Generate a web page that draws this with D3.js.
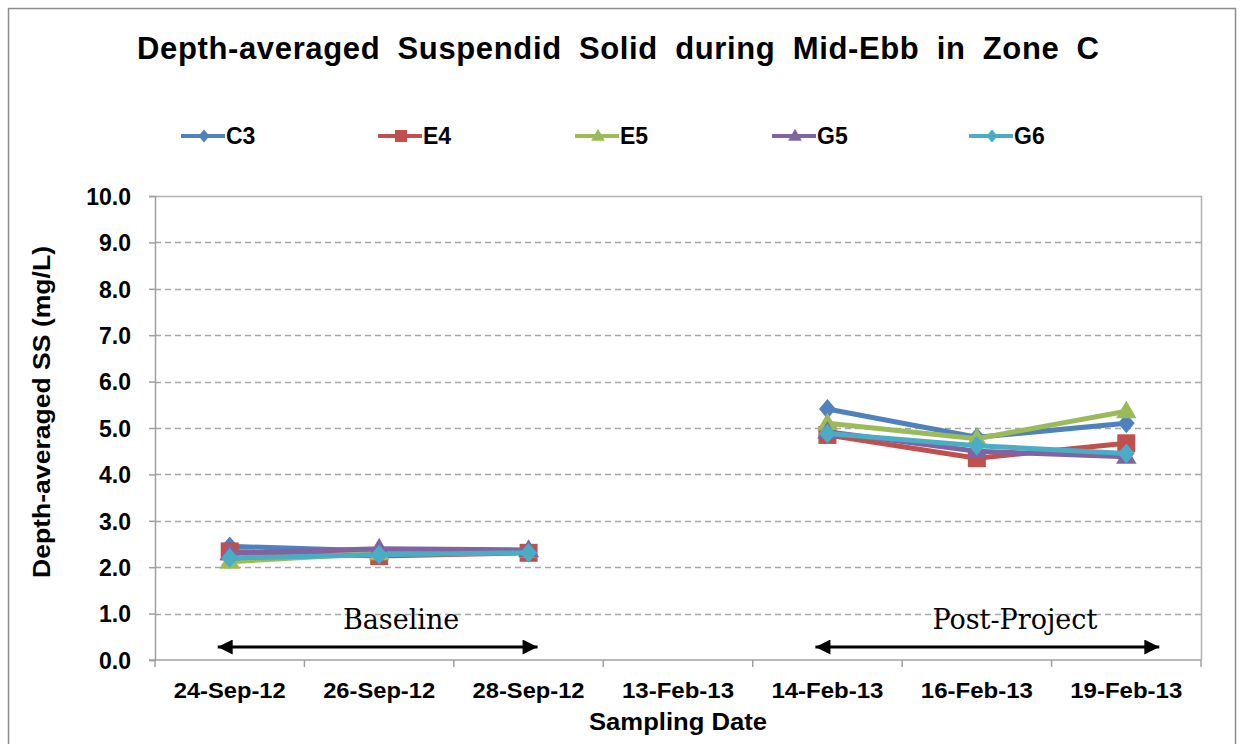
<!DOCTYPE html>
<html>
<head>
<meta charset="utf-8">
<script src="https://cdn.jsdelivr.net/npm/d3@7"></script>
<style>
  body { margin: 0; background: #fff; }
  svg { display: block; }
  .tick-label { font-family: "Liberation Sans", Arial, sans-serif; font-weight: bold; font-size: 22px; fill: #000; }
</style>
</head>
<body>
<svg id="chart" width="1243" height="744"></svg>
<script>
// data
var dates = ["24-Sep-12", "26-Sep-12", "28-Sep-12", "13-Feb-13", "14-Feb-13", "16-Feb-13", "19-Feb-13"];
var yTicks = [0, 1, 2, 3, 4, 5, 6, 7, 8, 9, 10];

var c3 = [2.45, 2.35, 2.35, null, 5.41, 4.80, 5.10];
var e4 = [2.34, 2.24, 2.31, null, 4.85, 4.35, 4.67];
var e5 = [2.12, 2.30, 2.36, null, 5.10, 4.77, 5.36];
var g5 = [2.30, 2.40, 2.37, null, 4.92, 4.50, 4.38];
var g6 = [2.20, 2.27, 2.31, null, 4.88, 4.62, 4.45];

var series = [
  {name: "C3", values: c3, color: "#4F81BD", symbol: "diamond"},
  {name: "E4", values: e4, color: "#C0504D", symbol: "square"},
  {name: "E5", values: e5, color: "#9BBB59", symbol: "triangle"},
  {name: "G5", values: g5, color: "#8064A2", symbol: "triangle"},
  {name: "G6", values: g6, color: "#4BACC6", symbol: "diamond"}
];

var periods = [
  {label: "Baseline", from: "24-Sep-12", to: "28-Sep-12"},
  {label: "Post-Project", from: "14-Feb-13", to: "19-Feb-13"}
];

var svg = d3.select("#chart");
var margin = {left: 155, right: 42, top: 196, bottom: 84};
var W = 1243, H = 744;

var x = d3.scaleBand().domain(dates).range([margin.left, W - margin.right]);
var y = d3.scaleLinear().domain([0, 10]).range([H - margin.bottom, margin.top]);

// chart frame
svg.append("rect")
  .attr("x", 8.5).attr("y", 8.5).attr("width", 1227).attr("height", 760)
  .attr("fill", "none").attr("stroke", "#8c8c8c").attr("stroke-width", 1.5);

// title: a bit of extra letter and word spacing, like the original
var title = svg.append("text")
  .attr("x", 137).attr("y", 59)
  .style("font-family", "Liberation Sans, Arial, sans-serif")
  .style("font-weight", "bold").style("font-size", "31px")
  .text("Depth-averaged Suspendid Solid during Mid-Ebb in Zone C");
var tl = title.node().getComputedTextLength();
title.style("word-spacing", "8px")
  .style("letter-spacing", Math.max(0, (970 - tl - 64) / 54) + "px");

// gridlines
svg.append("g")
  .selectAll("line")
  .data(yTicks.filter(function(d) { return d > 0 && d < 10; }))
  .enter().append("line")
    .attr("x1", margin.left).attr("x2", W - margin.right)
    .attr("y1", function(d) { return Math.round(y(d)) + 0.5; })
    .attr("y2", function(d) { return Math.round(y(d)) + 0.5; })
    .attr("stroke", "#a6a6a6").attr("stroke-width", 1.5)
    .attr("stroke-dasharray", "6,4");

// plot border (top/right)
svg.append("path")
  .attr("d", "M" + margin.left + "," + (margin.top + 0.5) + "H" + (W - margin.right + 0.5) + "V" + (H - margin.bottom))
  .attr("fill", "none").attr("stroke", "#b0b0b0").attr("stroke-width", 1.5);

// y axis
var yAxis = d3.axisLeft(y).tickValues(yTicks).tickSize(6).tickSizeOuter(6)
  .tickFormat(d3.format(".1f"));
var gy = svg.append("g").attr("transform", "translate(" + margin.left + ",0)").call(yAxis);
gy.attr("font-size", null).attr("font-family", null);
gy.select(".domain").attr("stroke", "#a0a0a0").attr("stroke-width", 1.5);
gy.selectAll(".tick line").attr("stroke", "#a0a0a0").attr("stroke-width", 1.5);
gy.selectAll(".tick text").attr("class", "tick-label").attr("x", -24).attr("dy", "0.36em")
  .style("font-size", "23px");

// x axis: ticks at category boundaries
var gx = svg.append("g").attr("transform", "translate(0," + (H - margin.bottom) + ")");
gx.append("line")
  .attr("x1", margin.left - 6).attr("x2", W - margin.right)
  .attr("stroke", "#a0a0a0").attr("stroke-width", 1.5);
gx.selectAll(".xtick")
  .data(dates.map(function(d) { return x(d); }).concat([W - margin.right]))
  .enter().append("line")
    .attr("class", "xtick")
    .attr("x1", function(d) { return d; }).attr("x2", function(d) { return d; })
    .attr("y1", 0).attr("y2", 7)
    .attr("stroke", "#a0a0a0").attr("stroke-width", 1.5);
gx.selectAll(".xlabel")
  .data(dates)
  .enter().append("text")
    .attr("class", "tick-label")
    .attr("x", function(d) { return x(d) + x.bandwidth() / 2; })
    .attr("y", 38)
    .attr("text-anchor", "middle")
    .attr("textLength", 112).attr("lengthAdjust", "spacingAndGlyphs")
    .text(function(d) { return d; });

// axis titles
svg.append("text")
  .attr("x", 678).attr("y", 730)
  .attr("text-anchor", "middle")
  .attr("textLength", 178).attr("lengthAdjust", "spacingAndGlyphs")
  .style("font-family", "Liberation Sans, Arial, sans-serif")
  .style("font-weight", "bold").style("font-size", "23px")
  .text("Sampling Date");

svg.append("text")
  .attr("transform", "translate(50,412) rotate(-90)")
  .attr("text-anchor", "middle")
  .attr("textLength", 332).attr("lengthAdjust", "spacingAndGlyphs")
  .style("font-family", "Liberation Sans, Arial, sans-serif")
  .style("font-weight", "bold").style("font-size", "23px")
  .text("Depth-averaged SS (mg/L)");

// period arrows
svg.append("defs").append("marker")
  .attr("id", "head")
  .attr("viewBox", "0 0 10 10").attr("refX", 10).attr("refY", 5)
  .attr("markerWidth", 6).attr("markerHeight", 5).attr("markerUnits", "strokeWidth")
  .attr("orient", "auto-start-reverse")
  .append("path").attr("d", "M0,0L10,5L0,10Z").attr("fill", "#000");

var cx = function(d) { return x(d) + x.bandwidth() / 2; };
var pg = svg.append("g");
pg.selectAll("line")
  .data(periods)
  .enter().append("line")
    .attr("x1", function(d) { return cx(d.from) - 12; })
    .attr("x2", function(d) { return cx(d.to) + 9 + (d.label == "Post-Project" ? 24 : 0); })
    .attr("y1", 647).attr("y2", 647)
    .attr("stroke", "#000").attr("stroke-width", 3)
    .attr("marker-start", "url(#head)").attr("marker-end", "url(#head)");
pg.selectAll("text")
  .data(periods)
  .enter().append("text")
    .attr("x", function(d) { return (cx(d.from) + cx(d.to)) / 2 + (d.label == "Baseline" ? 22 : 38); })
    .attr("y", 629)
    .attr("text-anchor", "middle")
    .style("font-family", "DejaVu Serif, Liberation Serif, serif")
    .style("font-size", "27px")
    .text(function(d) { return d.label; });

// symbols
function symbolPath(kind, size) {
  if (kind == "diamond") {
    var h = size * 0.55;
    return "M0," + (-h) + "L" + (h * 0.85) + ",0L0," + h + "L" + (-h * 0.85) + ",0Z";
  }
  if (kind == "square") {
    var s = size / 2;
    return "M" + (-s) + "," + (-s) + "H" + s + "V" + s + "H" + (-s) + "Z";
  }
  var t = size * 0.6;
  return "M0," + (-t) + "L" + (t * 0.95) + "," + (t * 0.65) + "L" + (-t * 0.95) + "," + (t * 0.65) + "Z";
}

var line = d3.line()
  .defined(function(d) { return d.v != null; })
  .x(function(d) { return cx(d.date); })
  .y(function(d) { return y(d.v); });

series.forEach(function(s) {
  var pts = s.values.map(function(v, i) { return {date: dates[i], v: v}; });
  var g = svg.append("g");
  g.append("path")
    .datum(pts)
    .attr("d", line)
    .attr("fill", "none").attr("stroke", s.color)
    .attr("stroke-width", 5).attr("stroke-linejoin", "round");
  g.selectAll("path.pt")
    .data(pts.filter(function(d) { return d.v != null; }))
    .enter().append("path")
      .attr("class", "pt")
      .attr("transform", function(d) { return "translate(" + cx(d.date) + "," + y(d.v) + ")"; })
      .attr("d", symbolPath(s.symbol, 18))
      .attr("fill", s.color);
});

// legend
var lg = svg.append("g").selectAll("g")
  .data(series)
  .enter().append("g")
    .attr("transform", function(d, i) { return "translate(" + (181 + i * 197) + ",136)"; });
lg.append("line")
  .attr("x1", 0).attr("x2", 44)
  .attr("stroke", function(d) { return d.color; }).attr("stroke-width", 4);
lg.append("path")
  .attr("transform", "translate(23,0)")
  .attr("d", function(d) { return symbolPath(d.symbol, 12); })
  .attr("fill", function(d) { return d.color; });
lg.append("text")
  .attr("x", 45).attr("y", 8)
  .attr("class", "tick-label")
  .style("font-size", "23px")
  .text(function(d) { return d.name; });
</script>
</body>
</html>
